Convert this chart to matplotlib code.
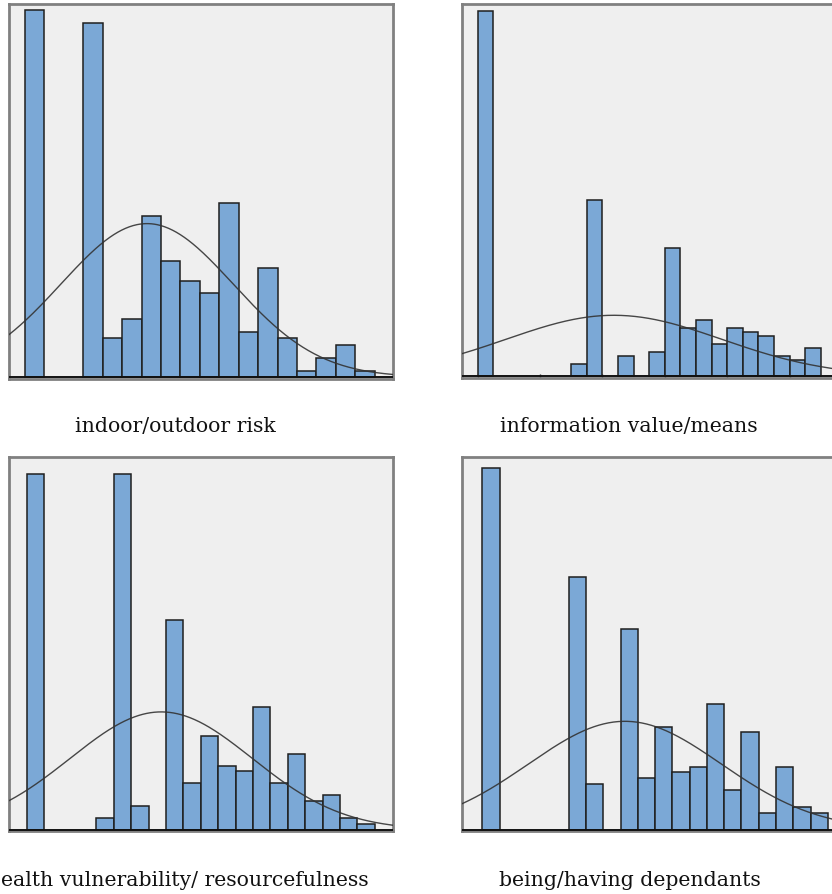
import numpy as np
import matplotlib
matplotlib.use("Agg")
import matplotlib.pyplot as plt

# ---- data (counts per bin, bin index starting at 0) ----
titles = ["indoor/outdoor risk", "information value/means",
          "ealth vulnerability/ resourcefulness", "being/having dependants"]

counts_indoor = [57, 0, 0, 55, 6, 9, 25, 18, 15, 13, 27, 7, 17, 6, 1, 3, 5, 1]
counts_info = [91, 0, 0, 0, 0, 0, 3, 44, 0, 5, 0, 6, 32, 12, 14, 8, 12, 11, 10, 5, 4, 7]
counts_health = [61, 0, 0, 0, 2, 61, 4, 0, 36, 8, 16, 11, 10, 21, 8, 13, 5, 6, 2, 1]
counts_depend = [63, 0, 0, 0, 0, 44, 8, 0, 35, 9, 18, 10, 11, 22, 7, 17, 3, 11, 4, 3]

W, H = 832, 895
fig = plt.figure(figsize=(W / 100, H / 100), dpi=100)
fig.patch.set_facecolor("white")

BAR = "#7BA8D6"
BG = "#EFEFEF"

def px_axes(left, right, top, bottom):
    return fig.add_axes([left / W, 1 - bottom / H, (right - left) / W, (bottom - top) / H])

# (axes pixel box), xlim, ylim, ticks
panels = [
    (counts_indoor, (9, 393, 5, 380), (-0.823, 18.94), (-0.3, 58.0), False),
    (counts_info, (462, 852, 5, 379), (-1.0, 24.0), (-0.4, 92.7), True),
    (counts_health, (9, 393, 458, 832), (-1.02, 21.05), (-0.2, 63.9), False),
    (counts_depend, (462, 852, 458, 832), (-1.18, 21.4), (-0.2, 65.0), False),
]

for counts, box, xl, yl, ticks in panels:
    ax = px_axes(*box)
    ax.set_facecolor(BG)
    c = np.array(counts, dtype=float)
    idx = np.arange(len(c))
    mask = c > 0
    ax.bar(idx[mask], c[mask], width=1.0, align="edge", color=BAR,
           edgecolor="#1f1f1f", linewidth=1.1, zorder=2)
    # fitted normal curve from the data
    centers = idx + 0.5
    n = c.sum()
    mu = (c * centers).sum() / n
    sd = np.sqrt((c * (centers - mu) ** 2).sum() / n)
    xs = np.linspace(xl[0], xl[1], 400)
    ys = n / (sd * np.sqrt(2 * np.pi)) * np.exp(-0.5 * ((xs - mu) / sd) ** 2)
    ax.plot(xs, ys, color="#333333", linewidth=1.0, alpha=0.9, zorder=3)
    ax.axhline(0, color="#111111", linewidth=1.4, zorder=4)
    ax.set_xlim(*xl)
    ax.set_ylim(*yl)
    for s in ax.spines.values():
        s.set_color("#808080")
        s.set_linewidth(2.0)
    ax.set_yticks([])
    if ticks:
        ax.set_xticks(np.arange(0, len(c), 4))
        ax.tick_params(axis="x", direction="in", length=3, width=1, color="#222222",
                       labelbottom=False)
    else:
        ax.set_xticks([])

font = dict(family="DejaVu Serif", fontsize=14.7, color="#111111")
fig.text(175 / W, 1 - 432 / H, titles[0], ha="center", va="baseline", **font)
fig.text(628.5 / W, 1 - 432 / H, titles[1], ha="center", va="baseline", **font)
fig.text(1 / W, 1 - 886 / H, titles[2], ha="left", va="baseline", **font)
fig.text(629.5 / W, 1 - 886 / H, titles[3], ha="center", va="baseline", **font)

fig.savefig("out.png", dpi=100, facecolor="white")
